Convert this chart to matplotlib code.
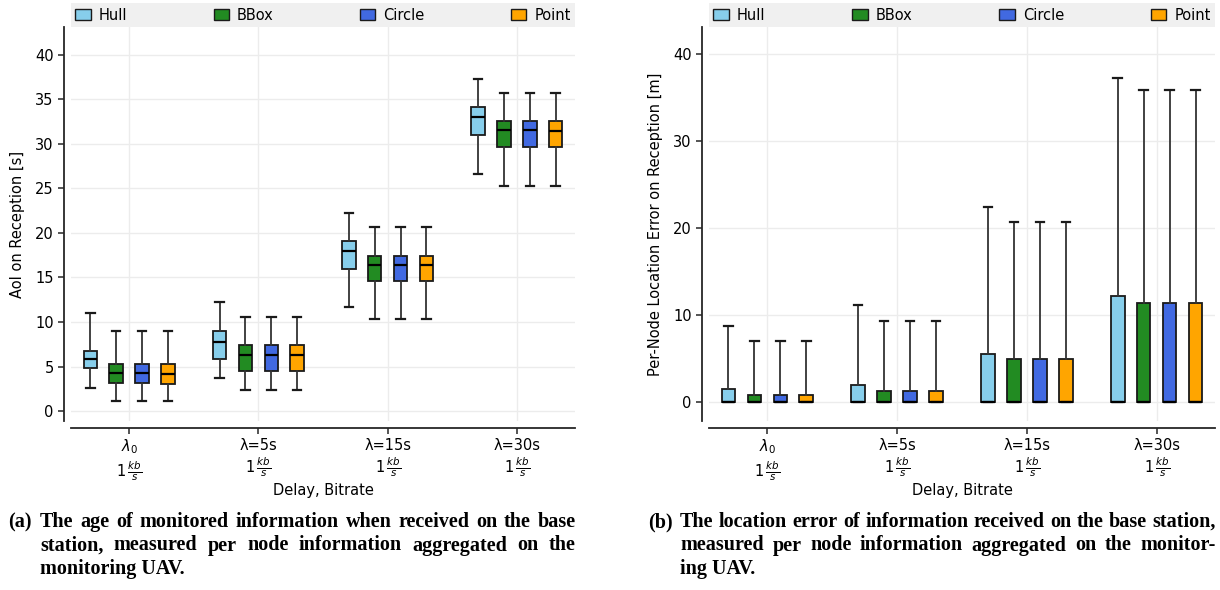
import matplotlib.pyplot as plt
from matplotlib.patches import Patch

methods = ['Hull', 'BBox', 'Circle', 'Point']
colors = ['skyblue', 'forestgreen', 'royalblue', 'orange']
groups = ['$\\lambda_0$\n$1\\,\\frac{kb}{s}$', 'λ=5s\n$1\\,\\frac{kb}{s}$',
          'λ=15s\n$1\\,\\frac{kb}{s}$', 'λ=30s\n$1\\,\\frac{kb}{s}$']

# (whisker low, q1, median, q3, whisker high) per delay group
aoi_hull = [(2.6, 4.8, 5.9, 6.8, 11.0), (3.7, 5.8, 7.8, 9.0, 12.2),
            (11.7, 16.0, 17.95, 19.05, 22.25), (26.65, 31.0, 32.95, 34.1, 37.3)]
aoi_bbox = [(1.15, 3.15, 4.25, 5.25, 9.0), (2.4, 4.5, 6.3, 7.4, 10.6),
            (10.3, 14.65, 16.45, 17.45, 20.7), (25.3, 29.65, 31.5, 32.5, 35.7)]
aoi_circle = aoi_bbox
aoi_point = [(1.1, 3.1, 4.2, 5.25, 9.0), (2.4, 4.5, 6.3, 7.4, 10.6),
             (10.3, 14.6, 16.4, 17.45, 20.7), (25.25, 29.6, 31.45, 32.5, 35.7)]

err_hull = [(0, 0, 0, 1.45, 8.75), (0, 0, 0, 1.95, 11.1),
            (0, 0, 0, 5.55, 22.4), (0, 0, 0, 12.2, 37.2)]
err_bbox = [(0, 0, 0, 0.8, 7.0), (0, 0, 0, 1.3, 9.3),
            (0, 0, 0, 4.9, 20.7), (0, 0, 0, 11.4, 35.85)]
err_circle = err_bbox
err_point = err_bbox

caption_a = ['The age of monitored information when received on the base',
             'station, measured per node information aggregated on the',
             'monitoring UAV.']
caption_b = ['The location error of information received on the base station,',
             'measured per node information aggregated on the monitor-',
             'ing UAV.']

plt.rcParams['font.family'] = 'DejaVu Sans'
plt.rcParams['font.size'] = 10
plt.rcParams['mathtext.fontset'] = 'dejavusans'


def to_stats(rows):
    return [dict(whislo=r[0], q1=r[1], med=r[2], q3=r[3], whishi=r[4], fliers=[])
            for r in rows]


def draw_panel(ax, data, ylabel, ylim, ystep):
    for k, (rows, c) in enumerate(zip(data, colors)):
        pos = [i - 0.3 + 0.2 * k for i in range(len(groups))]
        ax.bxp(to_stats(rows), positions=pos, widths=0.105, capwidths=0.065,
               patch_artist=True, manage_ticks=False,
               boxprops=dict(facecolor=c, edgecolor='#1a1a1a', linewidth=1.3),
               whiskerprops=dict(color='#333333', linewidth=1.3),
               capprops=dict(color='#1a1a1a', linewidth=1.6),
               medianprops=dict(color='black', linewidth=1.6))
    ax.set_xticks(range(len(groups)))
    ax.set_xticklabels(groups)
    ax.set_xlim(-0.45, 3.45)
    ax.set_ylim(*ylim)
    ax.set_yticks(range(0, 41, ystep))
    ax.grid(True, color='#ececec', linewidth=1.0)
    ax.set_axisbelow(True)
    for s in ['top', 'right']:
        ax.spines[s].set_visible(False)
    for s in ['left', 'bottom']:
        ax.spines[s].set_position(('outward', 5))
        ax.spines[s].set_linewidth(1.3)
        ax.spines[s].set_color('#262626')
    ax.tick_params(axis='both', length=4, width=1.1, color='#262626',
                   labelsize=10.5)
    ax.tick_params(axis='x', pad=3)
    ax.set_xlabel('Delay, Bitrate', fontsize=10.5, labelpad=0)
    ax.set_ylabel(ylabel, fontsize=10.5, labelpad=7)
    handles = [Patch(facecolor=c, edgecolor='#1a1a1a', label=m)
               for m, c in zip(methods, colors)]
    leg = ax.legend(handles=handles, loc='lower left', ncol=4, mode='expand',
                    bbox_to_anchor=(0, 1.0, 1, 0.06), borderaxespad=0,
                    frameon=True, fancybox=False, fontsize=10.5,
                    handlelength=1.05, handleheight=0.8, handletextpad=0.55,
                    borderpad=0.3)
    leg.get_frame().set_facecolor('#f0f0f0')
    leg.get_frame().set_edgecolor('none')
    leg.get_frame().set_alpha(1)


def caption(fig, label, lines, x_label, x0, x1, y_top, step=23.5):
    # justified block caption, positions in pixels
    W, H = fig.bbox.width, fig.bbox.height
    kw = dict(family='Liberation Serif', fontweight='bold', fontsize=14.5,
              va='top', ha='left')
    fig.text(x_label / W, 1 - y_top / H, label, **kw)
    renderer = fig.canvas.get_renderer()
    for li, line in enumerate(lines):
        y = 1 - (y_top + li * step) / H
        if li == len(lines) - 1:
            fig.text(x0 / W, y, line, **kw)
            continue
        words = line.split()
        texts = [fig.text(0, y, w, **kw) for w in words]
        widths = [t.get_window_extent(renderer).width for t in texts]
        gap = (x1 - x0 - sum(widths)) / (len(words) - 1)
        x = x0
        for t, w in zip(texts, widths):
            t.set_x(x / W)
            x += w + gap


fig = plt.figure(figsize=(12.2, 5.9), dpi=100)
ax1 = fig.add_axes([71 / 1220, 169 / 590, 504 / 1220, 394 / 590])
ax2 = fig.add_axes([709 / 1220, 169 / 590, 506 / 1220, 394 / 590])

draw_panel(ax1, [aoi_hull, aoi_bbox, aoi_circle, aoi_point],
           'AoI on Reception [s]', (-1.1, 43.1), 5)
draw_panel(ax2, [err_hull, err_bbox, err_circle, err_point],
           'Per-Node Location Error on Reception [m]', (-2.2, 43.1), 10)

caption(fig, '(a)', caption_a, 8, 40, 576, 512)
caption(fig, '(b)', caption_b, 648, 680, 1216, 512)

fig.savefig('out.png', dpi=100)
